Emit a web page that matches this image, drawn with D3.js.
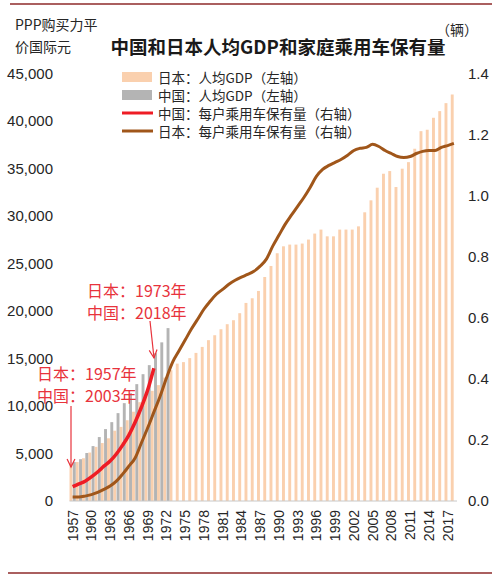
<!DOCTYPE html>
<html><head><meta charset="utf-8">
<script src="https://cdn.jsdelivr.net/npm/d3@7"></script>
<style>body{margin:0;background:#fff}svg{display:block}</style>
</head><body>
<svg id="c" width="500" height="578"></svg>
<script>
const years = d3.range(1957, 2019);
const tickYears = [1957,1960,1963,1966,1969,1972,1975,1978,1981,1984,1987,1990,1993,1996,1999,2002,2005,2008,2011,2014,2017];
const leftTicks = [0,5000,10000,15000,20000,25000,30000,35000,40000,45000];
const rightTicks = [0,0.2,0.4,0.6,0.8,1.0,1.2,1.4];
// Japan GDP per capita (PPP), 1957-2018
const japanGDP = [3900,4100,4500,5100,5700,6100,6600,7400,7800,8500,9400,10400,11300,11600,12200,13000,
  13770,14460,14620,15040,15590,16220,16930,17450,18080,18610,19030,19770,20850,21340,22110,23580,24740,26080,
  26810,26990,26990,27100,27520,28150,28570,27860,27860,28570,28570,28570,28910,30390,31650,32980,34450,34730,
  33050,34980,35670,37080,38930,39080,40340,41040,41880,42790];
// China GDP per capita (PPP), 2003-2018, plotted on Japan's 1957-1972 positions
const chinaGDP = [4100,4400,5050,5780,6730,7570,8300,9250,10300,11350,12300,13350,14300,15550,16700,18200];
// Japan household passenger cars, 1957-2018
const japanCar = [0.013,0.013,0.016,0.021,0.028,0.038,0.049,0.065,0.088,0.114,0.141,0.19,0.239,0.291,0.343,0.402,
  0.455,0.491,0.527,0.563,0.595,0.628,0.654,0.677,0.693,0.710,0.723,0.733,0.742,0.752,0.769,
  0.792,0.834,0.870,0.906,0.936,0.965,0.994,1.027,1.063,1.086,1.099,1.109,1.119,1.132,
  1.148,1.155,1.158,1.168,1.161,1.148,1.138,1.128,1.125,1.128,1.138,1.145,1.148,1.148,1.158,1.164,1.171];
// China household passenger cars, from 2003
const chinaCar = [0.047,0.056,0.065,0.079,0.095,0.114,0.131,0.154,0.183,0.216,0.258,0.307,0.363,0.435];

const svg = d3.select("#c");
const numFont = "'Liberation Sans', Arial, sans-serif";
const cjkFont = "'Noto Sans CJK SC', 'Noto Sans', sans-serif";
const cJapanBar = "#FAD0AE", cChinaBar = "#B4B4B4", cRed = "#EE1C25", cBrown = "#A0561A", cNote = "#E8333C";

const x = d3.scaleBand().domain(years).range([69.5, 457]).padding(0);
const yL = d3.scaleLinear().domain([0, 45000]).range([501, 73.5]);
const yR = d3.scaleLinear().domain([0, 1.4]).range([501, 73.5]);
const cx = y => x(y) + x.bandwidth() / 2;
const bw = 2.9;

// frame lines
svg.append("line").attr("x1", 10).attr("x2", 492).attr("y1", 4).attr("y2", 4).attr("stroke", "#8E2A2A").attr("stroke-width", 1.5);
svg.append("line").attr("x1", 8).attr("x2", 492).attr("y1", 573).attr("y2", 573).attr("stroke", "#8E2A2A").attr("stroke-width", 1.5);

// bars
svg.append("g").selectAll("rect").data(japanGDP).join("rect")
  .attr("x", (d, i) => cx(years[i]) - bw - 0.2).attr("width", bw)
  .attr("y", d => yL(d)).attr("height", d => yL(0) - yL(d)).attr("fill", cJapanBar);
svg.append("g").selectAll("rect").data(chinaGDP).join("rect")
  .attr("x", (d, i) => cx(years[i]) + 0.2).attr("width", bw)
  .attr("y", d => yL(d)).attr("height", d => yL(0) - yL(d)).attr("fill", cChinaBar);

// baseline
svg.append("line").attr("x1", 69.5).attr("x2", 457).attr("y1", 501).attr("y2", 501).attr("stroke", "#C8C8C8").attr("stroke-width", 1);

// lines
const lineJ = d3.line().x((d, i) => cx(years[i])).y(d => yR(d)).curve(d3.curveMonotoneX);
svg.append("path").datum(japanCar).attr("d", lineJ).attr("fill", "none").attr("stroke", cBrown).attr("stroke-width", 3).attr("stroke-linejoin", "round");
svg.append("path").datum(chinaCar).attr("d", lineJ).attr("fill", "none").attr("stroke", cRed).attr("stroke-width", 3.5).attr("stroke-linejoin", "round");

// axes
const axL = svg.append("g").attr("transform", "translate(56,0)")
  .call(d3.axisLeft(yL).tickValues(leftTicks).tickFormat(d3.format(",")).tickSize(0).tickPadding(3));
const axR = svg.append("g").attr("transform", "translate(465,0)")
  .call(d3.axisRight(yR).tickValues(rightTicks).tickFormat(d3.format(".1f")).tickSize(0).tickPadding(3));
const axB = svg.append("g").attr("transform", "translate(0,501)")
  .call(d3.axisBottom(x).tickValues(tickYears).tickSize(0));
[axL, axR, axB].forEach(g => { g.select(".domain").remove(); g.selectAll("text").attr("font-family", numFont).attr("fill", "#262626"); });
axL.selectAll("text").attr("font-size", 15);
axR.selectAll("text").attr("font-size", 15);
axB.selectAll("text").attr("font-size", 14).attr("text-anchor", "end")
  .attr("transform", "rotate(-90)").attr("x", -9).attr("y", 0).attr("dy", "0.35em");

// axis unit labels and title
const t = (txt, xx, yy, size, opts = {}) => svg.append("text").attr("x", xx).attr("y", yy).attr("font-size", size)
  .attr("font-family", opts.font || cjkFont).attr("fill", opts.fill || "#262626").attr("font-weight", opts.weight || "normal")
  .attr("text-anchor", opts.anchor || "start").attr("dominant-baseline", "central").text(txt);
t("PPP购买力平", 15, 24, 14);
t("价国际元", 15, 46, 14);
t("（辆）", 436, 29, 14);
t("中国和日本人均GDP和家庭乘用车保有量", 278, 46, 18.5, { weight: "bold", anchor: "middle", fill: "#1a1a1a" });

// legend
const legend = [
  { label: "日本：人均GDP（左轴）", type: "rect", color: cJapanBar },
  { label: "中国：人均GDP（左轴）", type: "rect", color: cChinaBar },
  { label: "中国：每户乘用车保有量（右轴）", type: "line", color: cRed },
  { label: "日本：每户乘用车保有量（右轴）", type: "line", color: cBrown }
];
const ly = [77, 95, 113, 131];
legend.forEach((d, i) => {
  if (d.type === "rect") svg.append("rect").attr("x", 122).attr("y", ly[i] - 5).attr("width", 30).attr("height", 10).attr("fill", d.color);
  else svg.append("line").attr("x1", 122).attr("x2", 153).attr("y1", ly[i]).attr("y2", ly[i]).attr("stroke", d.color).attr("stroke-width", 3);
  t(d.label, 158, ly[i], 13.5);
});

// annotations
const note = (lines, xx, yy) => lines.forEach((s, i) => t(s, xx, yy + i * 22, 16, { fill: cNote }));
note(["日本：1973年", "中国：2018年"], 87, 290);
note(["日本：1957年", "中国：2003年"], 37, 373);
const arrow = (x1, y1, x2, y2) => {
  svg.append("line").attr("x1", x1).attr("y1", y1).attr("x2", x2).attr("y2", y2).attr("stroke", cNote).attr("stroke-width", 1.2);
  const a = Math.atan2(y2 - y1, x2 - x1), L = 9, s = 0.45;
  svg.append("path").attr("d", `M${x2 - L * Math.cos(a - s)},${y2 - L * Math.sin(a - s)}L${x2},${y2}L${x2 - L * Math.cos(a + s)},${y2 - L * Math.sin(a + s)}`)
    .attr("fill", "none").attr("stroke", cNote).attr("stroke-width", 1.2);
};
arrow(150, 321, 154, 358);
arrow(71, 406, 71, 467);
</script>
</body></html>
